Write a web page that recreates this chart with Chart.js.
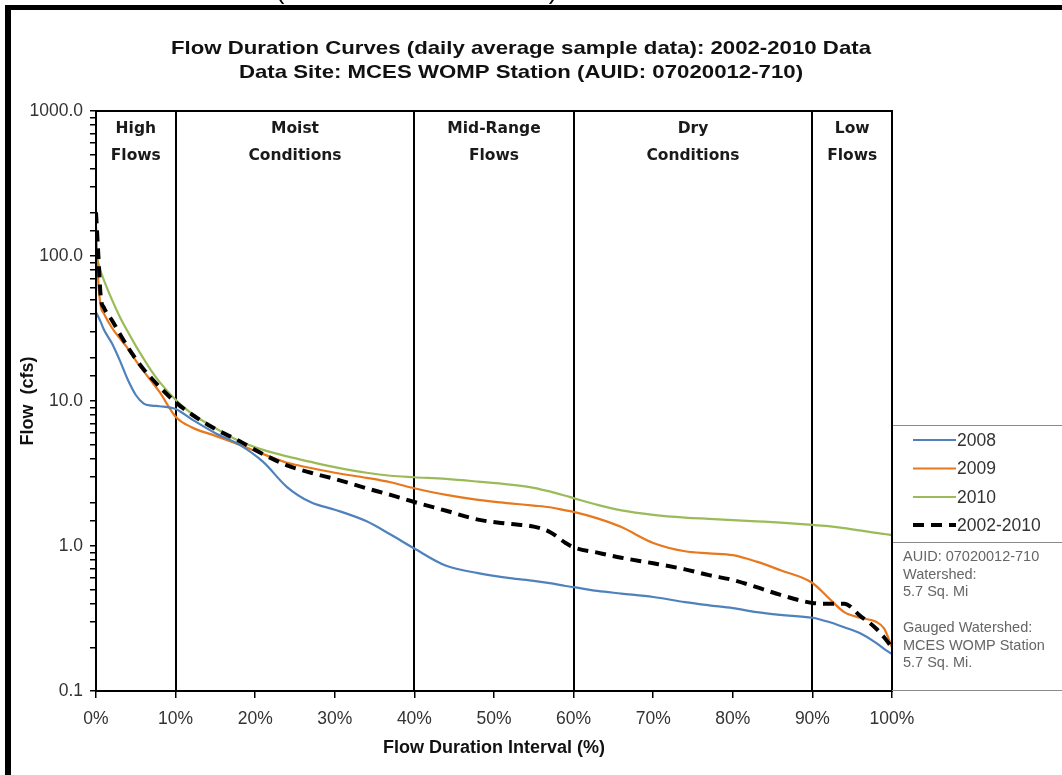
<!DOCTYPE html>
<html>
<head>
<meta charset="utf-8">
<script src="https://cdn.jsdelivr.net/npm/chart.js@4.4.1/dist/chart.umd.min.js"></script>
<style>
  html, body { margin: 0; padding: 0; background: #fff; }
  #wrap { width: 1062px; height: 775px; }
</style>
</head>
<body>
<div id="wrap"><canvas id="c" width="1062" height="775"></canvas></div>
<script>
// ---------------- DATA ----------------
const titleLines = [
  "Flow Duration Curves (daily average sample data): 2002-2010 Data",
  "Data Site: MCES WOMP Station (AUID: 07020012-710)"
];
const xTitle = "Flow Duration Interval (%)";
const yTitle = "Flow  (cfs)";

// flow duration interval (%)
const pct = [0, 0.3, 0.6, 1, 2, 3, 4, 5, 6, 7, 8, 10, 12, 15, 18, 21, 24, 27, 30, 34, 37, 40, 44, 48, 52, 55, 57, 59, 60, 63, 66, 70, 74, 77, 80, 83, 86, 90, 92, 94, 96, 98, 99, 100];

const flow2008 = [41, 38, 35, 31, 25, 19, 14, 11, 9.6, 9.3, 9.2, 8.8, 7.5, 6.0, 5.0, 3.8, 2.55, 2.0, 1.78, 1.48, 1.2, 0.96, 0.73, 0.65, 0.6, 0.575, 0.555, 0.53, 0.52, 0.49, 0.47, 0.445, 0.41, 0.39, 0.373, 0.35, 0.335, 0.32, 0.3, 0.275, 0.25, 0.215, 0.195, 0.18];
const flow2009 = [160, 65, 45, 40, 32, 27, 23, 19, 16, 13.6, 11.5, 7.8, 6.6, 5.75, 5.0, 4.3, 3.75, 3.45, 3.2, 2.95, 2.75, 2.5, 2.25, 2.08, 1.97, 1.9, 1.85, 1.76, 1.72, 1.55, 1.35, 1.05, 0.92, 0.89, 0.865, 0.78, 0.68, 0.556, 0.44, 0.35, 0.32, 0.3, 0.27, 0.2];
const flow2010 = [105, 89, 78, 68, 50, 38, 30, 24, 19.5, 16, 13.5, 10.2, 8.2, 6.5, 5.3, 4.6, 4.15, 3.8, 3.5, 3.2, 3.05, 2.98, 2.9, 2.78, 2.65, 2.52, 2.38, 2.22, 2.14, 1.92, 1.76, 1.64, 1.57, 1.54, 1.51, 1.48, 1.45, 1.40, 1.37, 1.33, 1.28, 1.23, 1.21, 1.19];
const flowAll = [200, 100, 52, 44, 36, 29, 23.5, 19.5, 16.5, 14.3, 12.5, 9.8, 8.1, 6.4, 5.3, 4.3, 3.6, 3.2, 2.9, 2.5, 2.25, 2.01, 1.75, 1.52, 1.42, 1.36, 1.25, 1.05, 0.98, 0.9, 0.83, 0.76, 0.69, 0.63, 0.583, 0.52, 0.46, 0.405, 0.4, 0.4, 0.33, 0.27, 0.235, 0.2];

const seriesLabels = ["2008", "2009", "2010", "2002-2010"];

// flow regime zones (%)
const zoneEdges = [0, 10, 40, 60, 90, 100];
const zoneLabels = [["High", "Flows"], ["Moist", "Conditions"], ["Mid-Range", "Flows"], ["Dry", "Conditions"], ["Low", "Flows"]];

const infoLines = ["AUID: 07020012-710", "Watershed:", "5.7 Sq. Mi", "", "Gauged Watershed:", "MCES WOMP Station", "5.7 Sq. Mi."];

const xTickStep = 10;
const yMin = 0.1, yMax = 1000;

// ---------------- STYLE ----------------
const SANS = "'Liberation Sans', Arial, sans-serif";
const ZONEFONT = "'DejaVu Sans', sans-serif";
const colors = ["#4F81BD", "#E8781E", "#9BBB59", "#000000"];
const widths = [2.2, 2.2, 2.2, 4];
const dashes = [[], [], [], [11, 7]];

function pts(ys) { return pct.map((p, i) => ({ x: p, y: ys[i] })); }
const allSeries = [flow2008, flow2009, flow2010, flowAll];

const datasets = allSeries.map((ys, i) => ({
  label: seriesLabels[i],
  data: pts(ys),
  borderColor: colors[i],
  backgroundColor: colors[i],
  borderWidth: widths[i],
  borderDash: dashes[i],
  pointRadius: 0,
  fill: false,
  cubicInterpolationMode: 'monotone',
  order: i === 3 ? 0 : 1
}));

function isDecade(v) {
  const l = Math.log10(v);
  return Math.abs(l - Math.round(l)) < 1e-9;
}

const decor = {
  id: 'decor',
  beforeDraw(chart) {
    const ctx = chart.ctx;
    ctx.save();
    ctx.fillStyle = '#fff';
    ctx.fillRect(0, 0, chart.width, chart.height);
    // cut-off parentheses of text above
    ctx.fillStyle = '#000';
    ctx.font = "26px " + SANS;
    ctx.textAlign = 'center';
    ctx.textBaseline = 'alphabetic';
    ctx.fillText("(", 280, -1);
    ctx.fillText(")", 553, -1);
    // outer frame
    ctx.fillRect(5, 5, chart.width - 5, 5);
    ctx.fillRect(5, 5, 6, chart.height - 5);
    // title (wide bold face, stretched to the original width)
    ctx.fillStyle = '#111';
    ctx.font = "bold 19px " + SANS;
    ctx.textBaseline = 'middle';
    const w0 = ctx.measureText(titleLines[0]).width;
    const sx = 700 / w0;
    const cx = 521;
    ctx.save();
    ctx.translate(cx, 0);
    ctx.scale(sx, 1);
    ctx.fillText(titleLines[0], 0, 49);
    ctx.fillText(titleLines[1], 0, 72.5);
    ctx.restore();
    ctx.restore();
  },
  beforeDatasetsDraw(chart) {
    const ctx = chart.ctx;
    const ca = chart.chartArea;
    const xs = chart.scales.x;
    ctx.save();
    ctx.strokeStyle = '#000';
    ctx.lineWidth = 2;
    for (let i = 1; i < zoneEdges.length - 1; i++) {
      const x = Math.round(xs.getPixelForValue(zoneEdges[i]));
      ctx.beginPath();
      ctx.moveTo(x, ca.top);
      ctx.lineTo(x, ca.bottom);
      ctx.stroke();
    }
    ctx.fillStyle = '#1a1a1a';
    ctx.font = "bold 15.5px " + ZONEFONT;
    ctx.textAlign = 'center';
    ctx.textBaseline = 'middle';
    for (let i = 0; i < zoneLabels.length; i++) {
      const xm = (xs.getPixelForValue(zoneEdges[i]) + xs.getPixelForValue(zoneEdges[i + 1])) / 2;
      ctx.fillText(zoneLabels[i][0], xm, ca.top + 18);
      ctx.fillText(zoneLabels[i][1], xm, ca.top + 45);
    }
    ctx.restore();
  },
  afterDraw(chart) {
    const ctx = chart.ctx;
    const ca = chart.chartArea;
    ctx.save();
    // plot frame
    ctx.strokeStyle = '#000';
    ctx.lineWidth = 2;
    ctx.strokeRect(ca.left, ca.top, ca.right - ca.left, ca.bottom - ca.top);
    // legend box
    const lx = ca.right, ly = 425, lb = 542, ib = 690;
    ctx.fillStyle = '#fff';
    ctx.fillRect(lx + 1, ly, chart.width - lx, ib - ly);
    ctx.strokeStyle = '#8a8a8a';
    ctx.lineWidth = 1.2;
    ctx.beginPath();
    ctx.moveTo(lx, ly + 0.5); ctx.lineTo(chart.width, ly + 0.5);
    ctx.moveTo(lx, lb + 0.5); ctx.lineTo(chart.width, lb + 0.5);
    ctx.moveTo(lx, ib + 0.5); ctx.lineTo(chart.width, ib + 0.5);
    ctx.stroke();
    ctx.strokeStyle = '#000';
    ctx.lineWidth = 2;
    ctx.beginPath();
    ctx.moveTo(lx, ly); ctx.lineTo(lx, ib);
    ctx.stroke();
    const rowY = [440, 468.5, 497, 525];
    chart.data.datasets.forEach((ds, i) => {
      const y = rowY[i];
      ctx.strokeStyle = ds.borderColor;
      ctx.lineWidth = ds.borderWidth;
      ctx.setLineDash(ds.borderDash || []);
      ctx.beginPath();
      ctx.moveTo(913, y);
      ctx.lineTo(956, y);
      ctx.stroke();
      ctx.setLineDash([]);
      ctx.fillStyle = '#333';
      ctx.font = "17.5px " + SANS;
      ctx.textAlign = 'left';
      ctx.textBaseline = 'middle';
      ctx.fillText(ds.label, 957, y + 1);
    });
    ctx.fillStyle = '#666';
    ctx.font = "14.5px " + SANS;
    ctx.textAlign = 'left';
    ctx.textBaseline = 'middle';
    infoLines.forEach((t, i) => {
      ctx.fillText(t, 903, 557 + i * 17.7);
    });
    ctx.restore();
  }
};

new Chart(document.getElementById('c'), {
  type: 'line',
  data: { datasets },
  plugins: [decor],
  options: {
    responsive: false,
    animation: false,
    devicePixelRatio: 1,
    layout: { padding: { left: 13, right: 170, top: 111, bottom: 0 } },
    plugins: { legend: { display: false }, title: { display: false }, tooltip: { enabled: false } },
    scales: {
      x: {
        type: 'linear',
        min: 0, max: 100,
        ticks: {
          stepSize: xTickStep,
          callback: v => v + '%',
          font: { family: SANS, size: 17.5 },
          color: '#333',
          padding: 11,
          maxRotation: 0
        },
        grid: { drawOnChartArea: false, drawTicks: true, tickLength: 7, color: '#000', lineWidth: 1.5 },
        border: { color: '#000', width: 2 },
        title: { display: true, text: xTitle, font: { family: SANS, size: 18, weight: 'bold' }, color: '#111', padding: { top: 4, bottom: 16 } },
        afterFit: s => { s.height = 84; }
      },
      y: {
        type: 'logarithmic',
        min: yMin, max: yMax,
        ticks: {
          autoSkip: false,
          callback: v => isDecade(v) ? Number(v).toFixed(1) : '',
          font: { family: SANS, size: 17.5 },
          color: '#333',
          padding: 7
        },
        grid: { drawOnChartArea: false, drawTicks: true, tickLength: 6, color: '#000', lineWidth: 1.5 },
        border: { color: '#000', width: 2 },
        title: { display: true, text: yTitle, font: { family: SANS, size: 18, weight: 'bold' }, color: '#111', padding: { top: 4, bottom: 4 } },
        afterFit: s => { s.width = 83; }
      }
    }
  }
});
</script>
</body>
</html>
